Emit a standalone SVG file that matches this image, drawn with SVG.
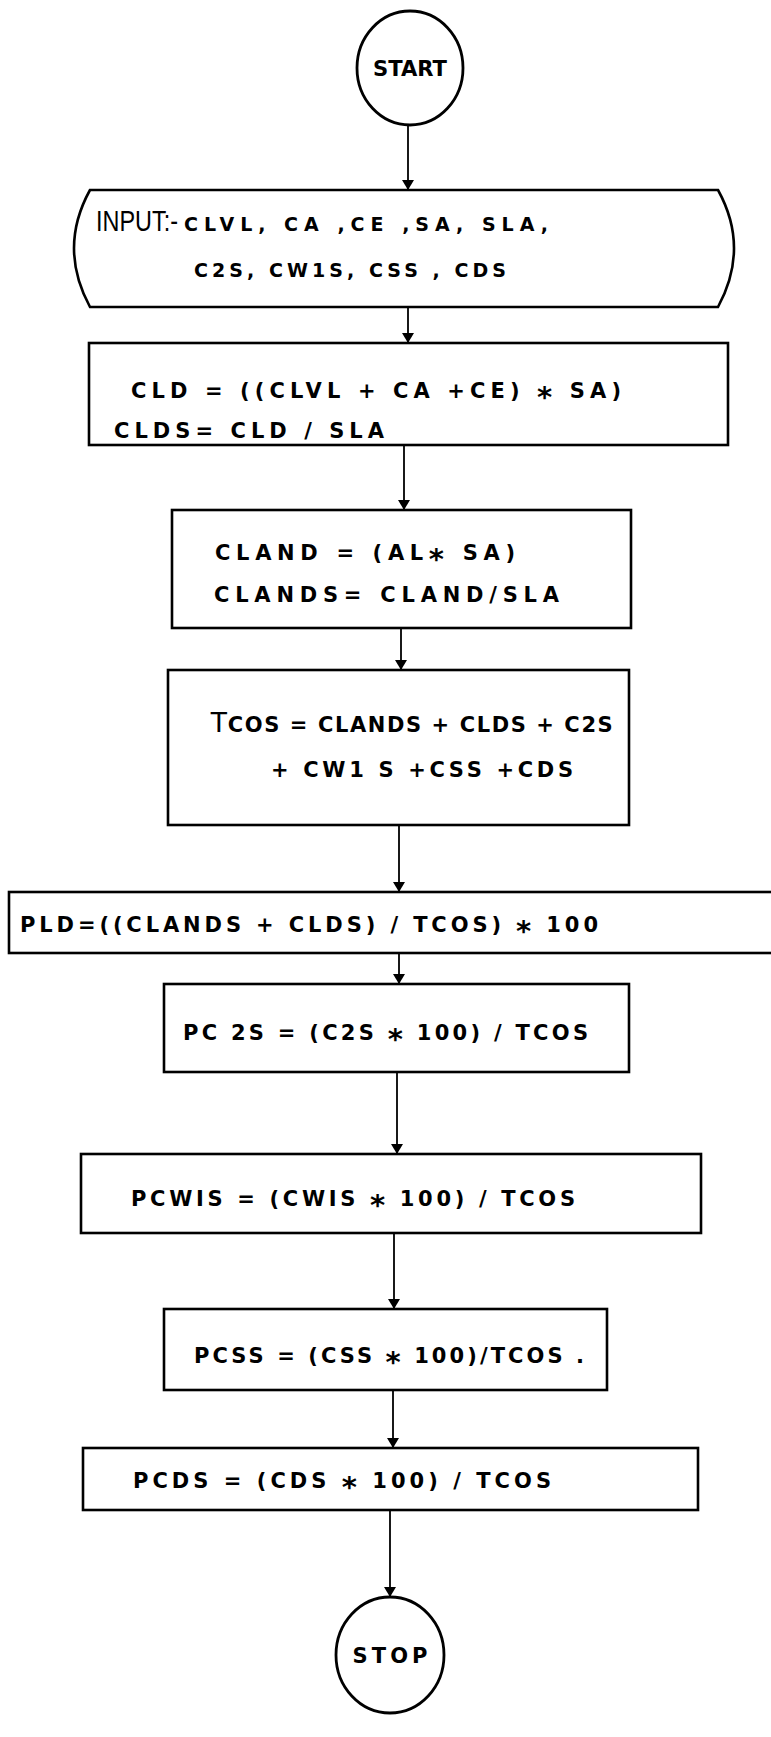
<svg xmlns="http://www.w3.org/2000/svg" width="771" height="1737" viewBox="0 0 771 1737">
<defs>
<marker id="ah" viewBox="0 0 10 20" refX="10" refY="10" markerWidth="10" markerHeight="20" markerUnits="userSpaceOnUse" orient="auto">
<path d="M0,4 L10,10 L0,16 Z" fill="#000"/>
</marker>
<style>
.box{fill:#fff;stroke:#000;stroke-width:2.6}
.term{fill:#fff;stroke:#000;stroke-width:2.8}
.t{font-family:"DejaVu Sans","Liberation Sans",sans-serif;font-weight:bold;font-size:21px;fill:#000}
.s{font-family:"DejaVu Sans","Liberation Sans",sans-serif;font-weight:bold;font-size:19px;fill:#000}
.big{font-family:"Liberation Sans",Arial,sans-serif;font-weight:normal;font-size:29px;fill:#000}
.st{font-size:29px}
.c{stroke:#000;stroke-width:1.8;fill:none;marker-end:url(#ah)}
</style>
</defs>
<rect width="771" height="1737" fill="#fff"/>
<g id="connectors">
<line class="c" x1="408" y1="125" x2="408" y2="190"/>
<line class="c" x1="408" y1="307" x2="408" y2="343"/>
<line class="c" x1="404" y1="445" x2="404" y2="510"/>
<line class="c" x1="401" y1="628" x2="401" y2="670"/>
<line class="c" x1="399" y1="825" x2="399" y2="892"/>
<line class="c" x1="399" y1="953" x2="399" y2="984"/>
<line class="c" x1="397" y1="1072" x2="397" y2="1154"/>
<line class="c" x1="394" y1="1233" x2="394" y2="1309"/>
<line class="c" x1="393" y1="1390" x2="393" y2="1448"/>
<line class="c" x1="390" y1="1510" x2="390" y2="1597"/>
</g>
<g id="start">
<ellipse class="term" cx="410" cy="68" rx="53" ry="57"/>
<text class="t" x="410" y="76" text-anchor="middle" textLength="74" lengthAdjust="spacingAndGlyphs">START</text>
</g>
<g id="input">
<path class="box" d="M90,190 L718,190 Q750,248 718,307 L90,307 Q58,248 90,190 Z"/>
<text class="big" x="96" y="231" textLength="82" lengthAdjust="spacingAndGlyphs">INPUT:-</text>
<text class="s" x="184" y="231" textLength="364" lengthAdjust="spacing">CLVL, CA ,CE ,SA, SLA,</text>
<text class="s" x="194" y="277" textLength="312" lengthAdjust="spacing">C2S, CW1S, CSS , CDS</text>
</g>
<g id="cld">
<rect class="box" x="89" y="343" width="639" height="102"/>
<text class="t" x="131" y="398" textLength="490" lengthAdjust="spacing">CLD = ((CLVL + CA +CE) <tspan class="st" dy="9">*</tspan><tspan dy="-9"> SA)</tspan></text>
<text class="t" x="114" y="438" textLength="270" lengthAdjust="spacing">CLDS= CLD / SLA</text>
</g>
<g id="cland">
<rect class="box" x="172" y="510" width="459" height="118"/>
<text class="t" x="215" y="560" textLength="300" lengthAdjust="spacing">CLAND = (AL<tspan class="st" dy="9">*</tspan><tspan dy="-9"> SA)</tspan></text>
<text class="t" x="214" y="602" textLength="345" lengthAdjust="spacing">CLANDS= CLAND/SLA</text>
</g>
<g id="tcos">
<rect class="box" x="168" y="670" width="461" height="155"/>
<text x="210" y="732"><tspan class="big">T</tspan><tspan class="t" textLength="385" lengthAdjust="spacing">COS = CLANDS + CLDS + C2S</tspan></text>
<text class="t" x="271" y="777" textLength="302" lengthAdjust="spacing">+ CW1 S +CSS +CDS</text>
</g>
<g id="pld">
<rect class="box" x="9" y="892" width="775" height="61"/>
<text class="t" x="20" y="932" textLength="578" lengthAdjust="spacing">PLD=((CLANDS + CLDS) / TCOS) <tspan class="st" dy="9">*</tspan><tspan dy="-9"> 100</tspan></text>
</g>
<g id="pc2s">
<rect class="box" x="164" y="984" width="465" height="88"/>
<text class="t" x="183" y="1040" textLength="405" lengthAdjust="spacing">PC 2S = (C2S <tspan class="st" dy="9">*</tspan><tspan dy="-9"> 100) / TCOS</tspan></text>
</g>
<g id="pcw1s">
<rect class="box" x="81" y="1154" width="620" height="79"/>
<text class="t" x="131" y="1206" textLength="444" lengthAdjust="spacing">PCWIS = (CWIS <tspan class="st" dy="9">*</tspan><tspan dy="-9"> 100) / TCOS</tspan></text>
</g>
<g id="pcss">
<rect class="box" x="164" y="1309" width="443" height="81"/>
<text class="t" x="194" y="1363" textLength="390" lengthAdjust="spacing">PCSS = (CSS <tspan class="st" dy="9">*</tspan><tspan dy="-9"> 100)/TCOS .</tspan></text>
</g>
<g id="pcds">
<rect class="box" x="83" y="1448" width="615" height="62"/>
<text class="t" x="133" y="1488" textLength="418" lengthAdjust="spacing">PCDS = (CDS <tspan class="st" dy="9">*</tspan><tspan dy="-9"> 100) / TCOS</tspan></text>
</g>
<g id="stop">
<ellipse class="term" cx="390" cy="1655" rx="54" ry="58"/>
<text class="t" x="390" y="1663" text-anchor="middle" textLength="75" lengthAdjust="spacing">STOP</text>
</g>
</svg>
